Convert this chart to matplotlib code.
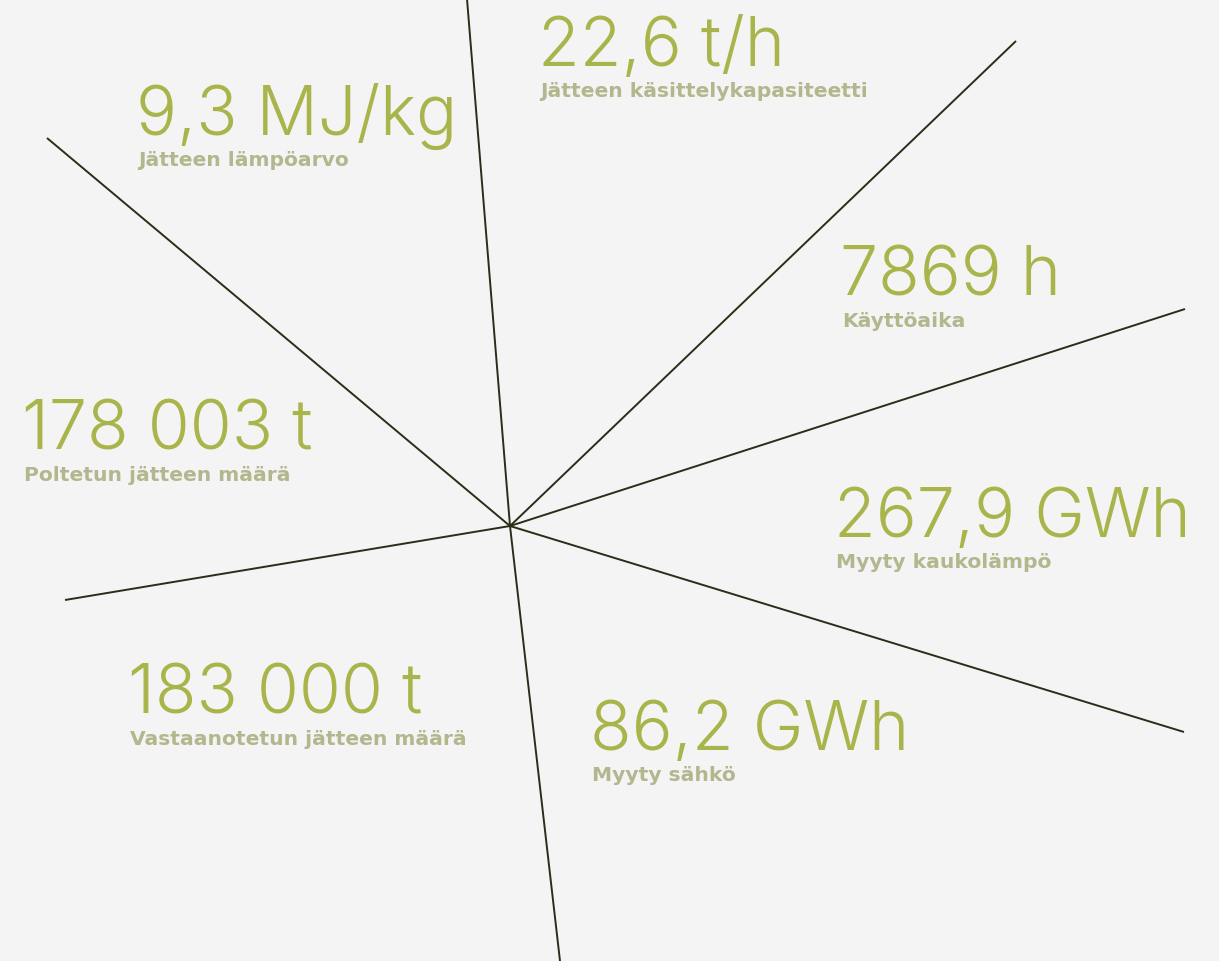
import matplotlib.pyplot as plt

# centre of the star and the ray end points (pixel coords of the picture)
center = (510, 527)
ray_x = [467, 1016, 1185, 1184, 560, 65, 47]
ray_y = [0, 42, 310, 733, 962, 601, 139]

values = ["9,3 MJ/kg", "22,6 t/h", "7869 h", "178 003 t",
          "267,9 GWh", "183 000 t", "86,2 GWh"]
labels = ["Jätteen lämpöarvo", "Jätteen käsittelykapasiteetti", "Käyttöaika",
          "Poltetun jätteen määrä", "Myyty kaukolämpö",
          "Vastaanotetun jätteen määrä", "Myyty sähkö"]
text_x = [138, 540, 842, 24, 836, 130, 592]
text_y = [135, 66, 296, 450, 537, 714, 750]

green = "#a9b54b"
grey = "#b4b68e"
line_col = "#2b2d18"
bg = "#f4f4f4"

fig = plt.figure(figsize=(12.19, 9.62), dpi=100, facecolor=bg)
ax = fig.add_axes([0, 0, 1, 1])
ax.set_facecolor(bg)
ax.set_xlim(0, 1219)
ax.set_ylim(962, 0)
ax.axis("off")

for x, y in zip(ray_x, ray_y):
    ax.plot([center[0], x], [center[1], y], color=line_col, lw=1.4,
            solid_capstyle="butt")

for v, l, x, y in zip(values, labels, text_x, text_y):
    ax.text(x - 2, y, v, fontsize=49, color=green, family="Inter",
            fontweight=300, va="baseline", ha="left")
    ax.text(x, y + 31, l, fontsize=14.6, color=grey, family="DejaVu Sans",
            fontweight="bold", va="baseline", ha="left")

fig.savefig("out.png", dpi=100, facecolor=bg)
